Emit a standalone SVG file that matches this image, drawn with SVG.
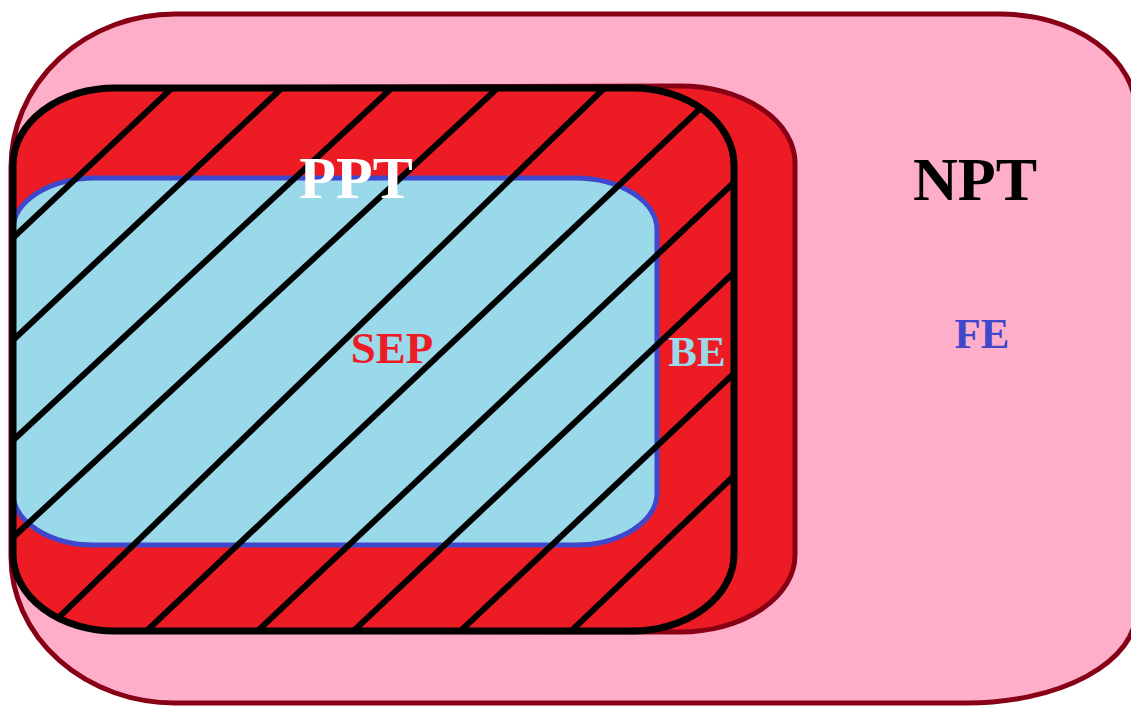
<svg xmlns="http://www.w3.org/2000/svg" width="1131" height="706" viewBox="0 0 1131 706">
  <style>
    .lbl { font-family: "Liberation Serif", "DejaVu Serif", serif; font-weight: bold; }
    .hatch line { stroke: #000000; stroke-width: 6; stroke-linecap: round; }
  </style>
  <defs>
    <clipPath id="pptClip">
      <rect x="13" y="88" width="721" height="543" rx="102" ry="77"/>
    </clipPath>
  </defs>

  <!-- NPT: outer region -->
  <g id="npt">
    <path d="M 11 167 A 164 153 0 0 1 175 14 L 1000 14 A 136 98 0 0 1 1136 112 L 1136 612 A 169 91 0 0 1 967 703 L 175 703 A 164 146 0 0 1 11 557 Z"
          fill="#FFAEC9" stroke="#880015" stroke-width="5"/>
    <text class="lbl" x="975" y="200" font-size="62" text-anchor="middle" fill="#000000">NPT</text>
    <text class="lbl" x="982" y="348" font-size="43" text-anchor="middle" fill="#3F48CC">FE</text>
  </g>

  <!-- BE: red band -->
  <g id="be">
    <path d="M 115 88 L 680 86 A 115 77 0 0 1 795 163 L 795 555 A 115 77 0 0 1 680 632 L 115 631 A 102 77 0 0 1 13 554 L 13 165 A 102 77 0 0 1 115 88 Z"
          fill="#ED1C24" stroke="#880015" stroke-width="5"/>
  </g>

  <!-- SEP: inner light-blue region -->
  <g id="sep">
    <rect x="13" y="178" width="644" height="367" rx="82" ry="52" fill="#99D9EA" stroke="#3F48CC" stroke-width="5"/>
  </g>

  <!-- PPT: hatched region with black outline -->
  <g id="ppt">
    <g class="hatch" clip-path="url(#pptClip)">
      <line x1="-20" y1="269" x2="190" y2="71"/>
      <line x1="-20" y1="371" x2="300" y2="71"/>
      <line x1="-20" y1="471" x2="410" y2="71"/>
      <line x1="-20" y1="568" x2="516" y2="71"/>
      <line x1="20" y1="655" x2="622" y2="71"/>
      <line x1="120" y1="656" x2="740" y2="71"/>
      <line x1="232" y1="655" x2="760" y2="158"/>
      <line x1="328" y1="655" x2="760" y2="248"/>
      <line x1="435" y1="655" x2="760" y2="349"/>
      <line x1="546" y1="655" x2="760" y2="451"/>
    </g>
    <rect x="13" y="88" width="721" height="543" rx="102" ry="77" fill="none" stroke="#000000" stroke-width="7"/>
    <text class="lbl" x="356" y="198" font-size="60" text-anchor="middle" fill="#FFFFFF">PPT</text>
  </g>

  <g id="labels">
    <text class="lbl" x="392" y="363" font-size="45" text-anchor="middle" fill="#ED1C24">SEP</text>
    <text class="lbl" x="697" y="366" font-size="43" text-anchor="middle" fill="#99D9EA">BE</text>
  </g>

  <g id="connectors"/>
</svg>
